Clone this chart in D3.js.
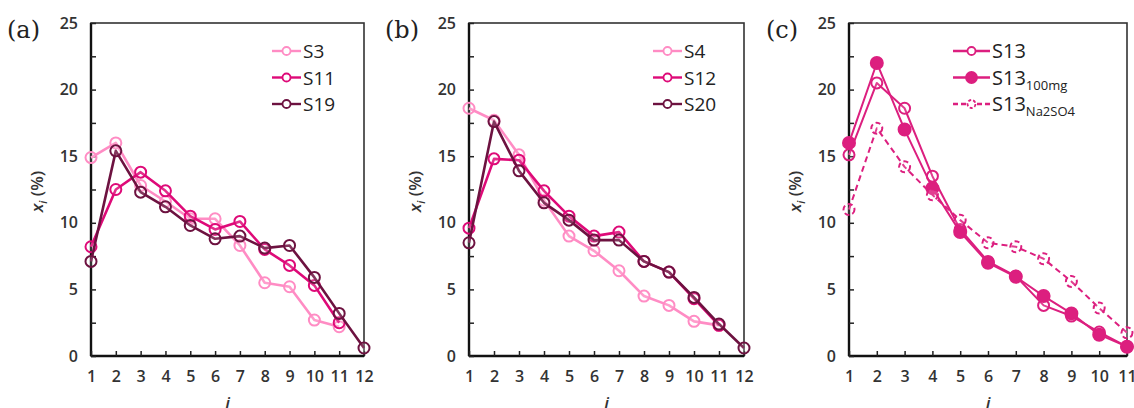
<!DOCTYPE html>
<html>
<head>
<meta charset="utf-8">
<script src="https://cdn.jsdelivr.net/npm/d3@7"></script>
<style>
  body { margin: 0; background: #fff; }
  svg text { font-family: "Open Sans", "DejaVu Sans", sans-serif; }
</style>
</head>
<body>
<svg id="chart" width="1134" height="408"></svg>
<script>
// x categories (carbon number i)
var iA = [1, 2, 3, 4, 5, 6, 7, 8, 9, 10, 11, 12];
var iC = [1, 2, 3, 4, 5, 6, 7, 8, 9, 10, 11];
var yTicks = [0, 5, 10, 15, 20, 25];

// panel (a)
var s3  = [14.9, 16.0, 12.8, 11.6, 10.3, 10.3, 8.3, 5.5, 5.2, 2.7, 2.2];
var s11 = [8.2, 12.5, 13.8, 12.4, 10.5, 9.5, 10.1, 8.0, 6.8, 5.3, 2.5];
var s19 = [7.1, 15.4, 12.3, 11.2, 9.8, 8.8, 9.0, 8.1, 8.3, 5.9, 3.2, 0.6];

// panel (b)
var s4  = [18.6, 17.7, 15.1, 11.7, 9.0, 7.9, 6.4, 4.5, 3.8, 2.6, 2.3];
var s12 = [9.6, 14.8, 14.7, 12.4, 10.5, 9.0, 9.3, 7.1, 6.3, 4.3, 2.3];
var s20 = [8.5, 17.6, 13.9, 11.5, 10.2, 8.7, 8.7, 7.1, 6.3, 4.4, 2.4, 0.6];

// panel (c)
var s13      = [15.1, 20.5, 18.6, 13.5, 9.5, 7.1, 6.0, 3.8, 3.0, 1.8, 0.7];
var s13mg    = [16.0, 22.0, 17.0, 12.6, 9.3, 7.0, 5.95, 4.5, 3.2, 1.6, 0.7];
var s13na    = [11.0, 17.1, 14.2, 12.1, 10.2, 8.5, 8.2, 7.3, 5.6, 3.6, 1.75];

var C_LIGHT = '#ff8cc4', C_MID = '#de0a78', C_DARK = '#6d1240', C_C = '#dc1f7f';

var panels = [
  { tag: '(a)', tagX: 7, left: 91, right: 364, cats: iA,
    legX: 272,
    series: [
      { name: 'S3', vals: s3, color: C_LIGHT },
      { name: 'S11', vals: s11, color: C_MID },
      { name: 'S19', vals: s19, color: C_DARK }
    ] },
  { tag: '(b)', tagX: 385, left: 469, right: 744, cats: iA,
    legX: 653,
    series: [
      { name: 'S4', vals: s4, color: C_LIGHT },
      { name: 'S12', vals: s12, color: C_MID },
      { name: 'S20', vals: s20, color: C_DARK }
    ] },
  { tag: '(c)', tagX: 766, left: 849, right: 1127, cats: iC,
    legX: 953, big: true,
    series: [
      { name: 'S13', sub: '', vals: s13, color: C_C },
      { name: 'S13', sub: '100mg', vals: s13mg, color: C_C, filled: true },
      { name: 'S13', sub: 'Na2SO4', vals: s13na, color: C_C, dashed: true }
    ] }
];

var svg = d3.select('#chart');
var plotTop = 23, plotBottom = 356;

panels.forEach(function(p) {
  var x = d3.scaleLinear().domain([p.cats[0], p.cats[p.cats.length - 1]]).range([p.left, p.right]);
  var y = d3.scaleLinear().domain([0, 25]).range([plotBottom, plotTop]);
  var g = svg.append('g');

  // frame
  g.append('rect')
    .attr('x', p.left).attr('y', plotTop)
    .attr('width', p.right - p.left).attr('height', plotBottom - plotTop)
    .attr('fill', 'none').attr('stroke', '#333').attr('stroke-width', 1.6);
  g.append('line').attr('x1', p.left).attr('x2', p.left).attr('y1', plotTop).attr('y2', plotBottom)
    .attr('stroke', '#111').attr('stroke-width', 2.4);
  g.append('line').attr('x1', p.left).attr('x2', p.right).attr('y1', plotBottom).attr('y2', plotBottom)
    .attr('stroke', '#111').attr('stroke-width', 2.4);

  // axes with inward ticks
  var xAxis = d3.axisBottom(x).tickValues(p.cats).tickSize(-5).tickPadding(15).tickFormat(d3.format('d'));
  var yAxis = d3.axisLeft(y).tickValues(d3.range(0, 25.1, 2.5)).tickSize(-5).tickPadding(13)
    .tickFormat(function(d) { return d % 5 === 0 ? d : ''; });

  var gx = g.append('g').attr('transform', 'translate(0,' + plotBottom + ')').call(xAxis);
  var gy = g.append('g').attr('transform', 'translate(' + p.left + ',0)').call(yAxis);
  [gx, gy].forEach(function(ax) {
    ax.select('.domain').remove();
    ax.selectAll('line').attr('stroke', '#222').attr('stroke-width', 1.5);
    ax.selectAll('text').attr('fill', '#333').style('font-size', '16px').style('font-weight', 600);
  });
  gx.selectAll('text').attr('dy', '0.71em');

  // axis titles
  g.append('text')
    .attr('x', (p.left + p.right) / 2).attr('y', 409)
    .attr('text-anchor', 'middle').attr('fill', '#333')
    .style('font-size', '17px').style('font-style', 'italic').style('font-weight', 600)
    .text('i');
  var yl = g.append('text')
    .attr('transform', 'translate(' + (p.left - 48) + ',' + ((plotTop + plotBottom) / 2 + 2) + ') rotate(-90)')
    .attr('text-anchor', 'middle').attr('fill', '#333')
    .style('font-size', '17px').style('font-weight', 600);
  yl.append('tspan').style('font-style', 'italic').text('x');
  yl.append('tspan').attr('dy', 4).style('font-size', '11px').style('font-style', 'italic').text('i');
  yl.append('tspan').attr('dy', -4).text(' (%)');

  // panel tag
  g.append('text')
    .attr('x', p.tagX).attr('y', 38)
    .attr('fill', '#222')
    .style('font-family', '"DejaVu Serif", "Liberation Serif", serif')
    .style('font-size', '24px')
    .text(p.tag);

  var line = d3.line()
    .x(function(d, i) { return x(p.cats[i]); })
    .y(function(d) { return y(d); });

  p.series.forEach(function(s) {
    g.append('path')
      .datum(s.vals)
      .attr('d', line)
      .attr('fill', 'none')
      .attr('stroke', s.color)
      .attr('stroke-width', p.big ? 2 : 2.6)
      .attr('stroke-dasharray', s.dashed ? '6,4' : null)
      .attr('stroke-linejoin', 'round');

    g.selectAll(null)
      .data(s.vals)
      .enter().append('circle')
      .attr('cx', function(d, i) { return x(p.cats[i]); })
      .attr('cy', function(d) { return y(d); })
      .attr('r', s.filled ? 6 : 5.5)
      .attr('fill', s.filled ? s.color : 'rgba(255,255,255,0.15)')
      .attr('stroke', s.color)
      .attr('stroke-width', 2)
      .attr('stroke-dasharray', s.dashed ? '5,3' : null);
  });

  // legend
  p.series.forEach(function(s, k) {
    var ly = 51 + k * 26.5;
    var lw = p.big ? 37 : 29;
    var lg = g.append('g');
    lg.append('line')
      .attr('x1', p.legX).attr('x2', p.legX + lw)
      .attr('y1', ly).attr('y2', ly)
      .attr('stroke', s.color).attr('stroke-width', 2.4)
      .attr('stroke-dasharray', s.dashed ? '5,3' : null);
    lg.append('circle')
      .attr('cx', p.legX + lw / 2).attr('cy', ly)
      .attr('r', s.filled ? 5.5 : 4)
      .attr('fill', s.filled ? s.color : '#fff')
      .attr('stroke', s.color).attr('stroke-width', 1.8)
      .attr('stroke-dasharray', s.dashed ? '3,2' : null);
    var t = lg.append('text')
      .attr('x', p.legX + lw + 2).attr('y', ly + 7)
      .attr('fill', '#222')
      .style('font-size', p.big ? '20px' : '19px')
      .text(s.name);
    if (s.sub) {
      t.append('tspan').attr('dy', 5).style('font-size', '13px').text(s.sub);
    }
  });
});
</script>
</body>
</html>
